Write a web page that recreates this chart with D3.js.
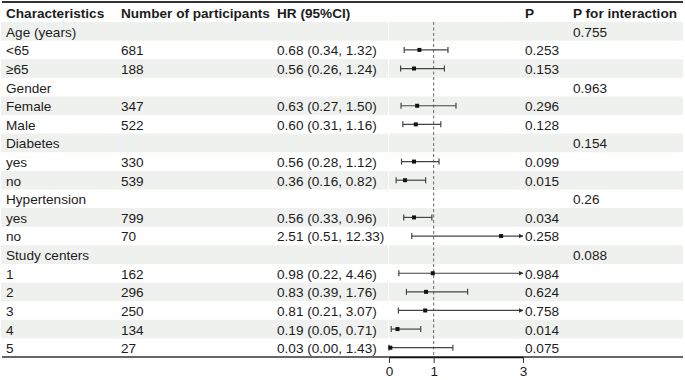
<!DOCTYPE html>
<html>
<head>
<meta charset="utf-8">
<script src="https://cdn.jsdelivr.net/npm/d3@7"></script>
<style>
  body { margin: 0; background: #fff; }
  text { font-family: "Liberation Sans", Arial, sans-serif; font-size: 13.6px; fill: #1c1c1c; }
  .head { font-weight: bold; }
</style>
</head>
<body>
<div id="chart"></div>
<script>
// table rows (null = group heading row)
const labels = ["Age (years)", "<65", "≥65", "Gender", "Female", "Male", "Diabetes", "yes", "no",
  "Hypertension", "yes", "no", "Study centers", "1", "2", "3", "4", "5"]
const counts = [null, 681, 188, null, 347, 522, null, 330, 539, null, 799, 70, null, 162, 296, 250, 134, 27]
const hr     = [null, 0.68, 0.56, null, 0.63, 0.60, null, 0.56, 0.36, null, 0.56, 2.51, null, 0.98, 0.83, 0.81, 0.19, 0.03]
const lower  = [null, 0.34, 0.26, null, 0.27, 0.31, null, 0.28, 0.16, null, 0.33, 0.51, null, 0.22, 0.39, 0.21, 0.05, 0.00]
const upper  = [null, 1.32, 1.24, null, 1.50, 1.16, null, 1.12, 0.82, null, 0.96, 12.33, null, 4.46, 1.76, 3.07, 0.71, 1.43]
const pvals  = [null, "0.253", "0.153", null, "0.296", "0.128", null, "0.099", "0.015", null, "0.034", "0.258",
  null, "0.984", "0.624", "0.758", "0.014", "0.075"]
const pInteraction = ["0.755", null, null, "0.963", null, null, "0.154", null, null, "0.26", null, null,
  "0.088", null, null, null, null, null]
const headers = ["Characteristics", "Number of participants", "HR (95%CI)", "P", "P for interaction"]
const xTicks = [0, 1, 3]

const width = 685, height = 380
const colX = [6, 121, 277, 525, 573]
const f2 = d3.format(".2f")

const svg = d3.select("#chart").append("svg")
  .attr("width", width)
  .attr("height", height)

const y = d3.scaleBand()
  .domain(d3.range(labels.length))
  .range([22, 357])

const x = d3.scaleLinear()
  .domain([0, 3])
  .range([389, 523])

// shaded stripes
svg.append("g").selectAll("rect")
  .data(d3.range(labels.length).filter(i => i % 2 == 0))
  .join("rect")
    .attr("x", 1)
    .attr("y", i => y(i))
    .attr("width", 682)
    .attr("height", y.bandwidth())
    .attr("fill", "#eff1ee")

// thin white split before the plot column
svg.append("line")
  .attr("x1", 388.5).attr("x2", 388.5)
  .attr("y1", 22).attr("y2", 357)
  .attr("stroke", "#fff")
  .attr("stroke-width", 1)

// header
svg.append("line")
  .attr("x1", 2).attr("x2", 683)
  .attr("y1", 2).attr("y2", 2)
  .attr("stroke", "#333")
  .attr("stroke-width", 2)

svg.append("g").selectAll("text")
  .data(headers)
  .join("text")
    .attr("class", "head")
    .attr("x", (d, i) => colX[i])
    .attr("y", 13)
    .attr("dy", "0.37em")
    .text(d => d)

// table text
const rowCenter = i => y(i) + y.bandwidth() / 2

const rows = svg.append("g").selectAll("g")
  .data(d3.range(labels.length))
  .join("g")
    .attr("transform", i => `translate(0,${rowCenter(i)})`)

rows.append("text").attr("x", colX[0]).attr("dy", "0.4em").text(i => labels[i])
rows.filter(i => counts[i] != null)
  .append("text").attr("x", colX[1]).attr("dy", "0.4em").text(i => counts[i])
rows.filter(i => hr[i] != null)
  .append("text").attr("x", colX[2]).attr("dy", "0.4em")
  .text(i => `${f2(hr[i])} (${f2(lower[i])}, ${f2(upper[i])})`)
rows.filter(i => pvals[i] != null)
  .append("text").attr("x", colX[3]).attr("dy", "0.4em").text(i => pvals[i])
rows.filter(i => pInteraction[i] != null)
  .append("text").attr("x", colX[4]).attr("dy", "0.4em").text(i => pInteraction[i])

// reference line at HR = 1
svg.append("line")
  .attr("x1", x(1)).attr("x2", x(1))
  .attr("y1", 22).attr("y2", 357)
  .attr("stroke", "#555")
  .attr("stroke-width", 0.9)
  .attr("stroke-dasharray", "3,2.5")

// arrow marker for CIs beyond the axis
svg.append("defs").append("marker")
  .attr("id", "arrow")
  .attr("viewBox", "0 0 10 10")
  .attr("refX", 9).attr("refY", 5)
  .attr("markerWidth", 5).attr("markerHeight", 5)
  .attr("markerUnits", "userSpaceOnUse")
  .attr("orient", "auto")
  .append("path")
    .attr("d", "M0,0L10,5L0,10z")
    .attr("fill", "#333")

const ci = svg.append("g").selectAll("g")
  .data(d3.range(labels.length).filter(i => hr[i] != null))
  .join("g")
    .attr("transform", i => `translate(0,${rowCenter(i)})`)

ci.append("line")
  .attr("x1", i => x(lower[i]))
  .attr("x2", i => x(Math.min(upper[i], 3)))
  .attr("stroke", "#444")
  .attr("stroke-width", 1.2)
  .attr("marker-end", i => upper[i] > 3 ? "url(#arrow)" : null)

ci.append("line")
  .attr("x1", i => x(lower[i])).attr("x2", i => x(lower[i]))
  .attr("y1", -3).attr("y2", 3)
  .attr("stroke", "#444")
  .attr("stroke-width", 1.2)

ci.filter(i => upper[i] <= 3).append("line")
  .attr("x1", i => x(upper[i])).attr("x2", i => x(upper[i]))
  .attr("y1", -3).attr("y2", 3)
  .attr("stroke", "#444")
  .attr("stroke-width", 1.2)

ci.append("rect")
  .attr("x", i => x(hr[i]) - 2)
  .attr("y", -2)
  .attr("width", 4)
  .attr("height", 4)
  .attr("fill", "#111")

// bottom rule and axis
svg.append("line")
  .attr("x1", 2).attr("x2", 683)
  .attr("y1", 357).attr("y2", 357)
  .attr("stroke", "#333")
  .attr("stroke-width", 1.4)

const axis = svg.append("g")
  .attr("transform", "translate(0,357)")
  .call(d3.axisBottom(x).tickValues(xTicks).tickSize(6).tickSizeOuter(0).tickFormat(d3.format("d")))

axis.select(".domain").attr("stroke", "#111").attr("stroke-width", 1.6)
axis.selectAll(".tick line").attr("stroke", "#333")
axis.selectAll(".tick text")
  .attr("font-family", "Liberation Sans, Arial, sans-serif")
  .attr("font-size", "13.6px")
  .attr("fill", "#1c1c1c")
</script>
</body>
</html>
